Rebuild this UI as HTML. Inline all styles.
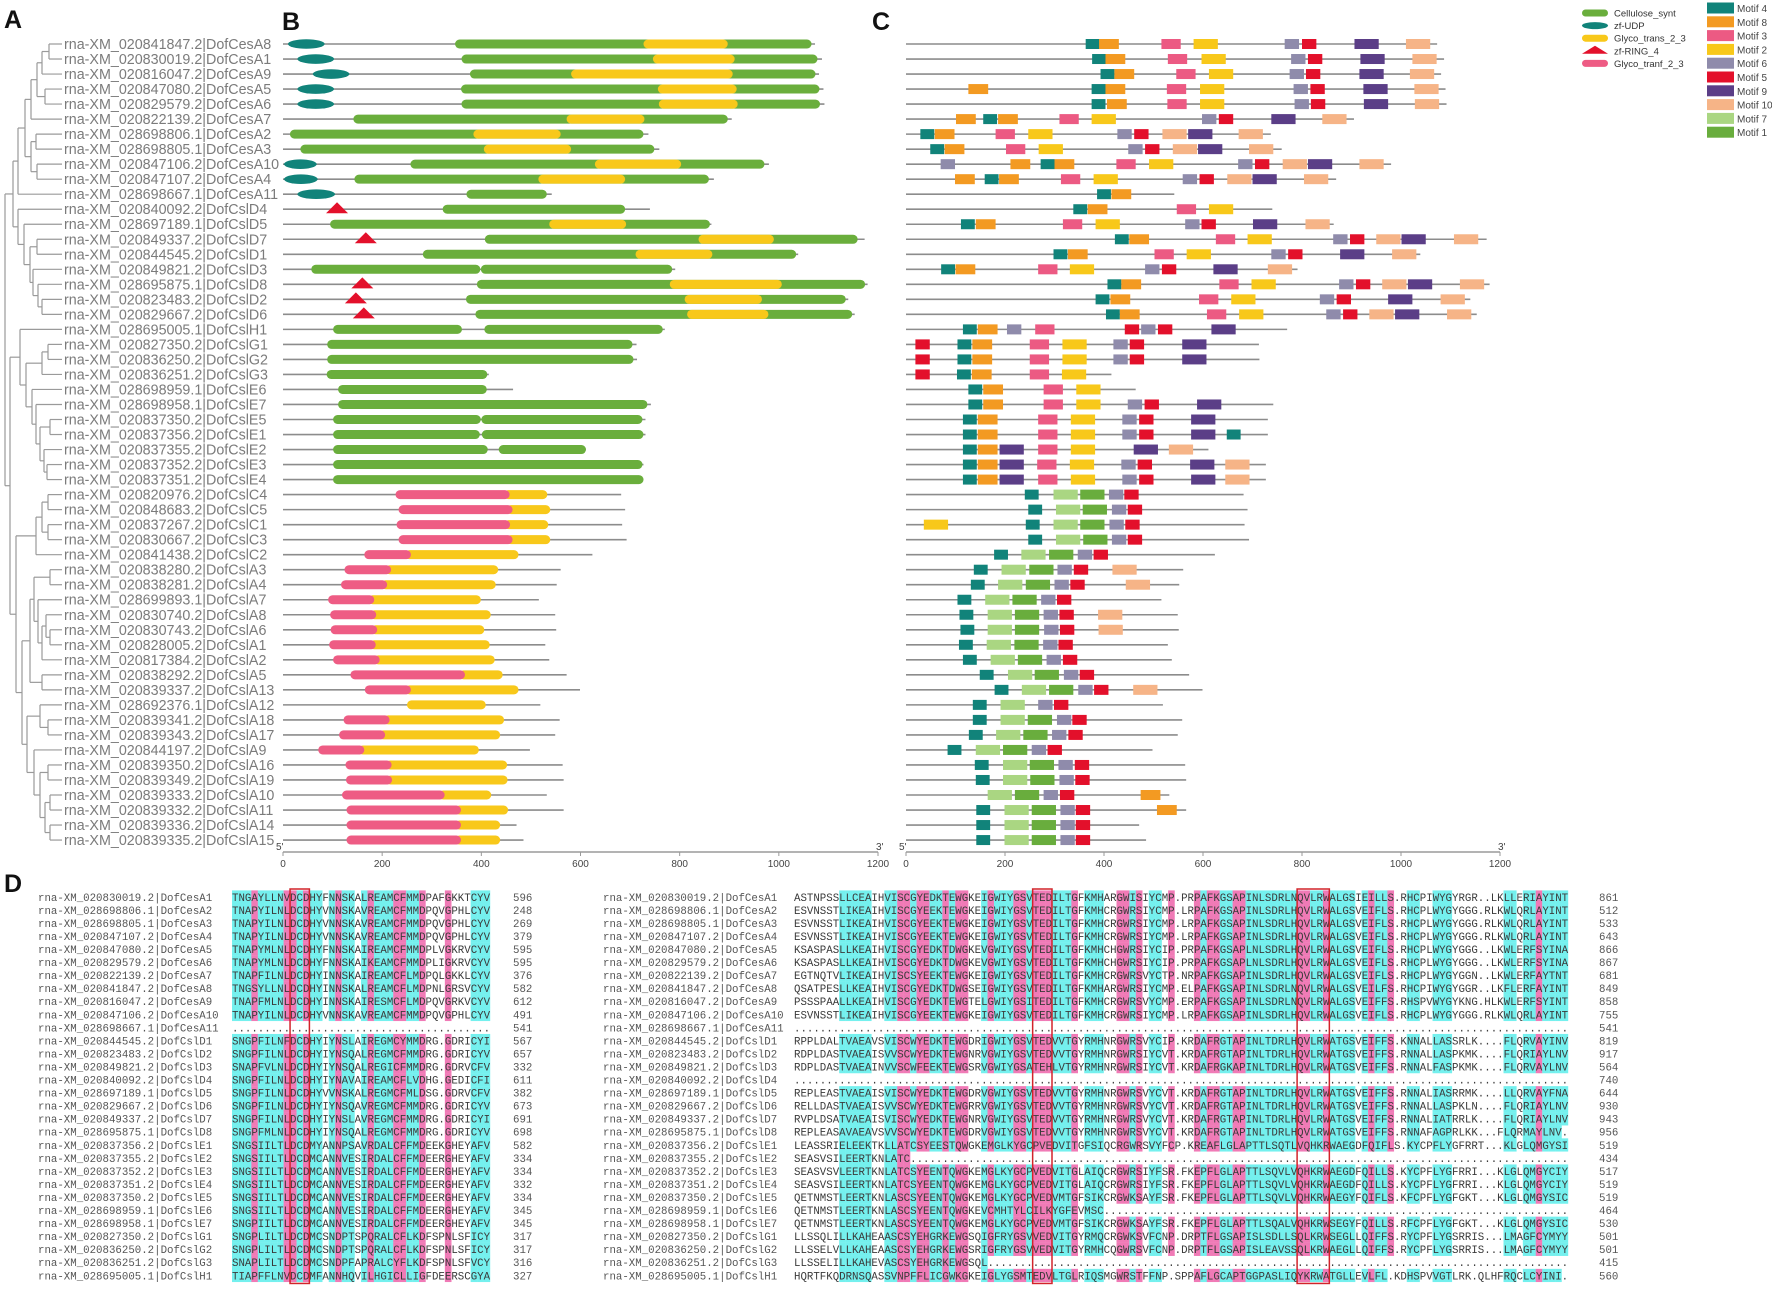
<!DOCTYPE html>
<html><head><meta charset="utf-8">
<style>
html,body{margin:0;padding:0;background:#fff;}
svg{display:block;font-family:"Liberation Sans",sans-serif;}
.mono{font-family:"Liberation Mono",monospace;}
</style></head>
<body>
<svg id="fig" xmlns="http://www.w3.org/2000/svg" width="1772" height="1289" viewBox="0 0 1772 1289">
<rect x="0" y="0" width="1772" height="1289" fill="#fff"/>
<text x="4" y="28" font-size="25" font-weight="bold" fill="#111">A</text>
<text x="282" y="30" font-size="25" font-weight="bold" fill="#111">B</text>
<text x="872" y="30" font-size="25" font-weight="bold" fill="#111">C</text>
<text x="4" y="892" font-size="25" font-weight="bold" fill="#111">D</text>
<g id="gA"></g>
<g id="gB"></g>
<g id="gC"></g>
<g id="gL"></g>
<g id="gD"></g>
</svg>
<script>
const geneIds = ["020841847.2|DofCesA8","020830019.2|DofCesA1","020816047.2|DofCesA9","020847080.2|DofCesA5","020829579.2|DofCesA6","020822139.2|DofCesA7","028698806.1|DofCesA2","028698805.1|DofCesA3","020847106.2|DofCesA10","020847107.2|DofCesA4","028698667.1|DofCesA11","020840092.2|DofCslD4","028697189.1|DofCslD5","020849337.2|DofCslD7","020844545.2|DofCslD1","020849821.2|DofCslD3","028695875.1|DofCslD8","020823483.2|DofCslD2","020829667.2|DofCslD6","028695005.1|DofCslH1","020827350.2|DofCslG1","020836250.2|DofCslG2","020836251.2|DofCslG3","028698959.1|DofCslE6","028698958.1|DofCslE7","020837350.2|DofCslE5","020837356.2|DofCslE1","020837355.2|DofCslE2","020837352.2|DofCslE3","020837351.2|DofCslE4","020820976.2|DofCslC4","020848683.2|DofCslC5","020837267.2|DofCslC1","020830667.2|DofCslC3","020841438.2|DofCslC2","020838280.2|DofCslA3","020838281.2|DofCslA4","028699893.1|DofCslA7","020830740.2|DofCslA8","020830743.2|DofCslA6","020828005.2|DofCslA1","020817384.2|DofCslA2","020838292.2|DofCslA5","020839337.2|DofCslA13","028692376.1|DofCslA12","020839341.2|DofCslA18","020839343.2|DofCslA17","020844197.2|DofCslA9","020839350.2|DofCslA16","020839349.2|DofCslA19","020839333.2|DofCslA10","020839332.2|DofCslA11","020839336.2|DofCslA14","020839335.2|DofCslA15"];
const protLen = [1073,1087,1081,1090,1092,905,737,759,980,869,542,740,864,1173,1039,791,1179,1140,1153,770,713,714,415,464,742,731,731,611,727,727,682,690,684,693,624,560,552,516,549,551,529,537,572,599,519,558,549,498,564,566,532,566,471,485];
const celluloseSynt = [[[347,1066]],[[360,1078]],[[377,1074]],[[359,1082]],[[360,1083]],[[142,897]],[[14,727]],[[35,749]],[[257,971]],[[144,859]],[[370,532]],[[322,690]],[[95,861]],[[407,1159]],[[282,1035]],[[57,398],[399,785]],[[391,1174]],[[369,1135]],[[388,1148]],[[101,361],[406,766]],[[89,705]],[[89,707]],[[88,412]],[[111,411]],[[111,735]],[[101,399],[400,725]],[[101,397],[401,727]],[[101,413],[435,611]],[[101,725]],[[101,727]]];
const glycoTrans = {0:[727,897],1:[746,911],2:[581,907],3:[756,915],4:[758,917],5:[572,729],6:[384,560],7:[405,581],8:[629,803],9:[515,690],12:[537,692],13:[838,990],14:[711,866],16:[780,1006],17:[810,966],18:[815,979],30:[457,533],31:[463,539],32:[458,535],33:[463,539],34:[258,475],35:[218,434],36:[210,429],37:[184,399],38:[188,419],39:[190,406],40:[187,417],41:[195,427],42:[367,443],43:[258,475],44:[250,409],45:[215,446],46:[206,438],47:[164,395],48:[219,452],49:[220,453],50:[326,420],51:[359,454],52:[359,438],53:[359,438]};
const glycoTranf = {30:[227,457],31:[233,463],32:[229,458],33:[233,463],34:[164,258],35:[124,218],36:[117,210],37:[91,184],38:[95,188],39:[96,190],40:[93,187],41:[101,195],42:[136,367],43:[165,258],45:[122,215],46:[113,206],47:[71,164],48:[126,219],49:[127,220],50:[119,326],51:[128,359],52:[128,359],53:[128,359]};
const zfUDP = {0:[10,84],1:[29,103],2:[60,134],3:[29,103],4:[29,103],8:[2,68],9:[2,70],10:[29,105]};
const zfRING = {11:109,13:167,16:160,17:147,18:163};
const motifWidth = {1:49,2:49,3:39,4:28,5:29,6:29,7:49,8:40,9:49,10:49};
const motifColor = {4:"#11837a",8:"#f39a22",3:"#ec5a83",2:"#f8c81a",6:"#8f8bab",5:"#e3102b",9:"#5b3e87",10:"#f6b487",7:"#aad682",1:"#69ad3d"};
const motifRows = [
[[4,363],[8,390],[3,516],[2,581],[6,765],[5,800],[9,906],[10,1010]],
[[4,376],[8,403],[3,529],[2,597],[6,778],[5,812],[9,918],[10,1023]],
[[4,393],[8,421],[3,546],[2,612],[6,775],[5,808],[9,916],[10,1018]],
[[8,126],[4,375],[8,403],[3,527],[2,594],[6,783],[5,817],[9,924],[10,1027]],
[[4,375],[8,406],[3,528],[2,594],[6,785],[5,818],[9,925],[10,1028]],
[[8,101],[4,156],[8,186],[3,310],[2,375],[6,598],[5,632],[9,738],[10,841]],
[[4,29],[8,58],[3,181],[2,247],[6,427],[5,461],[10,518],[9,570],[10,672]],
[[4,49],[8,78],[3,202],[2,268],[6,449],[5,483],[10,539],[9,590],[10,693]],
[[6,70],[8,211],[4,272],[8,300],[3,425],[2,491],[6,671],[5,705],[10,761],[9,812],[10,916]],
[[8,99],[4,159],[8,188],[3,313],[2,379],[6,559],[5,593],[10,649],[9,700],[10,804]],
[[4,386],[8,415]],
[[4,338],[8,367],[3,547],[2,612]],
[[4,111],[8,141],[3,317],[2,383],[6,564],[5,597],[9,701],[10,807]],
[[4,422],[8,451],[3,626],[2,690],[6,863],[5,897],[10,950],[9,1001],[10,1107]],
[[4,298],[8,327],[3,502],[2,567],[6,738],[5,772],[9,877],[10,982]],
[[4,71],[8,100],[3,267],[2,331],[6,483],[5,517],[9,621],[10,731]],
[[4,407],[8,435],[3,633],[2,698],[6,875],[5,909],[10,962],[9,1014],[10,1119]],
[[4,383],[8,413],[3,592],[2,657],[6,836],[5,870],[9,974],[10,1080]],
[[4,404],[8,432],[3,608],[2,673],[6,849],[5,883],[10,936],[9,988],[10,1093]],
[[4,115],[8,145],[6,204],[3,261],[5,442],[6,475],[5,509],[9,617]],
[[5,19],[4,104],[8,134],[3,250],[2,316],[6,419],[5,452],[9,558]],
[[5,19],[4,104],[8,134],[3,250],[2,316],[6,419],[5,452],[9,558]],
[[5,19],[4,103],[8,133],[3,250],[2,315]],
[[4,126],[8,156],[3,278],[2,344]],
[[4,126],[8,156],[3,278],[2,344],[6,448],[5,482],[9,588]],
[[4,115],[8,145],[3,267],[2,333],[6,437],[5,471],[9,576]],
[[4,115],[8,145],[3,267],[2,333],[6,437],[5,471],[9,576],[4,648]],
[[4,115],[8,145],[9,189],[3,267],[2,333],[9,460],[10,531]],
[[4,115],[8,145],[9,189],[3,265],[2,331],[6,435],[5,468],[9,574],[10,645]],
[[4,115],[8,145],[9,189],[3,267],[2,333],[6,437],[5,471],[9,576],[10,645]],
[[4,240],[7,298],[1,352],[6,410],[5,441]],
[[4,247],[7,303],[1,357],[6,416],[5,448]],
[[2,36],[4,242],[7,298],[1,352],[6,411],[5,443]],
[[4,247],[7,303],[1,358],[6,416],[5,448]],
[[4,178],[7,233],[1,289],[6,347],[5,379]],
[[4,137],[7,193],[1,249],[6,306],[5,339],[10,417]],
[[4,131],[7,186],[1,242],[6,300],[5,332],[10,444]],
[[4,104],[7,160],[1,215],[6,273],[5,305]],
[[4,108],[7,165],[1,220],[6,278],[5,310],[10,388]],
[[4,110],[7,165],[1,220],[6,279],[5,311],[10,389]],
[[4,107],[7,163],[1,219],[6,277],[5,308]],
[[4,115],[7,171],[1,226],[6,284],[5,317]],
[[4,149],[7,206],[1,260],[6,319],[5,351]],
[[4,179],[7,234],[1,289],[6,348],[5,380],[10,459]],
[[4,135],[7,191],[6,267],[5,299]],
[[4,135],[7,191],[1,246],[6,305],[5,336]],
[[4,127],[7,182],[1,237],[6,295],[5,328]],
[[4,84],[7,141],[1,196],[6,254],[5,286]],
[[4,139],[7,196],[1,250],[6,308],[5,341]],
[[4,141],[7,196],[1,251],[6,310],[5,342]],
[[7,165],[1,220],[6,278],[5,311],[8,474]],
[[4,142],[7,199],[1,254],[6,312],[5,343],[8,507]],
[[4,142],[7,199],[1,254],[6,312],[5,343]],
[[4,142],[7,199],[1,254],[6,312],[5,343]]];
const axisTicks = [0,200,400,600,800,1000,1200];
const motifLegend = [4,8,3,2,6,5,9,10,7,1];

const alnNames = ["020830019.2|DofCesA1","028698806.1|DofCesA2","028698805.1|DofCesA3","020847107.2|DofCesA4","020847080.2|DofCesA5","020829579.2|DofCesA6","020822139.2|DofCesA7","020841847.2|DofCesA8","020816047.2|DofCesA9","020847106.2|DofCesA10","028698667.1|DofCesA11","020844545.2|DofCslD1","020823483.2|DofCslD2","020849821.2|DofCslD3","020840092.2|DofCslD4","028697189.1|DofCslD5","020829667.2|DofCslD6","020849337.2|DofCslD7","028695875.1|DofCslD8","020837356.2|DofCslE1","020837355.2|DofCslE2","020837352.2|DofCslE3","020837351.2|DofCslE4","020837350.2|DofCslE5","028698959.1|DofCslE6","028698958.1|DofCslE7","020827350.2|DofCslG1","020836250.2|DofCslG2","020836251.2|DofCslG3","028695005.1|DofCslH1"];
const leftNums = [596,248,269,379,595,595,376,582,612,491,541,567,657,332,611,382,673,691,698,582,334,334,332,334,345,345,317,317,316,327];
const rightNums = [861,512,533,643,866,867,681,849,858,755,541,819,917,564,740,644,930,943,956,519,434,517,519,519,464,530,501,501,415,560];
const leftSeq = ["TNGAYLLNVDCDHYFNNSKALREAMCFMMDPAFGKKTCYV","TNAPYILNLDCDHYVNNSKAVREAMCFMMDPQVGPHLCYV","TNAPYILNLDCDHYVNNSKAVREAMCFMMDPQVGPHLCYV","TNAPYILNLDCDHYVNNSKAVREAMCFMMDPQVGPHLCYV","TNAPYMLNLDCDHYFNNSKAIREAMCFMMDPLVGKRVCYV","TNAPYMLNLDCDHYFNNSKAIKEAMCFMMDPLIGKRVCYV","TNAPFILNLDCDHYINNSKAIREAMCFLMDPQLGKKLCYV","TNGSYLLNLDCDHYINNSKALREAMCFLMDPNLGRSVCYV","TNAPFMLNLDCDHYINNSKAIRESMCFLMDPQVGRKVCYV","TNAPYILNLDCDHYVNNSKAVREAMCFMMDPQVGPHLCYV","........................................","SNGPFILNFDCDHYIYNSLAIREGMCYMMDRG.GDRICYI","SNGPFILNLDCDHYIYNSQALREGMCFMMDRG.GDRICYV","SNAPFVLNLDCDHYIYNSQALREGICFMMDRG.GDRVCFV","SNGPFILNLDCDHYIYNAVAIREAMCFLVDHG.GEDICFI","SNGPFILNLDCDHYVVNSKALREGMCFMLDSG.GDRVCFV","SNGPFILNLDCDHYIYNSQAVREGMCFMMDRG.GDRICYV","SNGPFILNLDCDHYIYNSLAVREGMCFMMDRG.GDRICYI","SNGPFMLNLDCDHYIYNSQALREGMCFMMDRG.GDRICYV","SNGSIILTLDCDMYANNPSAVRDALCFFMDEEKGHEYAFV","SNGSIILTLDCDMCANNVESIRDALCFFMDEERGHEYAFV","SNGSIILTLDCDMCANNVESIRDALCFFMDEERGHEYAFV","SNGSIILTLDCDMCANNVESIRDALCFFMDEERGHEYAFV","SNGSIILTLDCDMCANNVESIRDALCFFMDEERGHEYAFV","SNGSIILTLDCDMCANNVESIRDALCFFMDEERGHEYAFV","SNGPIILTLDCDMCANNVESIRDALCFFMDEERGHEYAFV","SNGPLILTLDCDMCSNDPTSPQRALCFLKDFSPNLSFICY","SNGPLILTLDCDMCSNDPTSPQRALCFLKDFSPNLSFICY","SNAPLILTLDCDMCSNDPFAPRALCYFLKDFSPNLSFVCY","TIAPFFLNVDCDMFANNHQVILHGICLLIGFDEERSCGYA"];
const RA2 = "ESVNSSTLIKEAIHVISCGYEEKTEWGKEIGWIYGSVTEDILTGFKMHCRGWRSIYCMP.LRPAFKGSAPINLSDRLHQVLRWALGSVEIFLS.RHCPLWYGYGGG.RLKWLQRLAYINT";
const RA5 = "KSASPASLLKEAIHVISCGYEDKTDWGKEVGWIYGSVTEDILTGFKMHCHGWRSIYCIP.PRPAFKGSAPLNLSDRLHQVLRWALGSVEIFLS.RHCPLWYGYGGG..LKWLERFSYINA";
const rightSeq = ["ASTNPSSLLCEAIHVISCGYEDKTEWGKEIGWIYGSVTEDILTGFKMHARGWISIYCMP.PRPAFKGSAPINLSDRLNQVLRWALGSIEILLS.RHCPIWYGYRGR..LKLLERIAYINT",RA2,RA2,RA2,RA5,RA5,
"EGTNQTVLIKEAIHVISCSYEEKTEWGKEIGWIYGSVTEDILTGFKMHCRGWRSVYCTP.NRPAFKGSAPINLSDRLHQVLRWALGSVEIFLS.RHCPLWYGYGGN..LKWLERFAYTNT",
"QSATPESLLKEAIHVISCGYEDKTDWGSEIGWIYGSVTEDILTGFKMHARGWRSIYCMP.ELPAFKGSAPINLSDRLNQVLRWALGSVEILFS.RHCPIWYGYGGR..LKFLERFAYINT",
"PSSSPAALLKEAIHVISCGYEDKTEWGTELGWIYGSITEDILTGFKMHCRGWRSVYCMP.ERPAFKGSAPINLSDRLNQVLRWALGSVEIFFS.RHSPVWYGYKNG.HLKWLERFSYINT",RA2,"",
"RPPLDALTVAEAVSVISCWYEDKTEWGDRIGWIYGSVTEDVVTGYRMHNRGWRSVYCIP.KRDAFRGTAPINLTDRLHQVLRWATGSVEIFFS.KNNALLASSRLK....FLQRVAYINV",
"RDPLDASTVAEAISVVSCWYEDKTEWGNRVGWIYGSVTEDVVTGYRMHNRGWRSIYCVT.KRDAFRGTAPINLTDRLHQVLRWATGSVEIFFS.RNNALLASPKMK....FLQRIAYLNV",
"RDPLDASTVAEAINVVSCWFEEKTEWGSRVGWIYGSATEHLVTGYRMHNRGWRSIYCVT.KRDAFRGKAPINLTDRLHQVLRWATGSVEIFFS.RNNALFASPKMK....FLQRVAYLNV","",
"REPLEASTVAEAISVISCWYEDKTEWGDRVGWIYGSVTEDVVTGYRMHNRGWRSVYCVT.KRDAFRGTAPINLTDRLHQVLRWATGSVEIFFS.RNNALIASRRMK....LLQRVAYFNA",
"RELLDASTVAEAISVVSCWYEDKTEWGRRVGWIYGSVTEDVVTGYRMHNRGWRSVYCVT.KRDAFRGTAPINLTDRLHQVLRWATGSVEIFFS.RNNALLASPKLN....FLQRIAYLNV",
"RVPLDSATVAEAISVISCWYEDKTEWGNRVGWIYGSVTEDVVTGYRMHNRGWRSVYCVT.KRDAFRGTAPINLTDRLHQVLRWATGSVEIFFS.RNNALIATRRLK....FLQRIAYLNV",
"REPLEASAVAEAVSVVSCWYEDKTEWGDRVGWIYGSVTEDVVTGYRMHNRGWRSVYCVT.KRDAFRGTAPINLTDRLHQVLRWATGSVEIFFS.RNNAFAGPRLKK...FLQRMAYLNV",
"LEASSRIELEEKTKLLATCSYEESTQWGKEMGLKYGCPVEDVITGFSIQCRGWRSVYFCP.KREAFLGLAPTTLSQTLVQHKRWAEGDFQIFLS.KYCPFLYGFRRT...KLGLQMGYSIC",
"SEASVSILEERTKNLATC",
"SEASVSVLEERTKNLATCSYEENTQWGKEMGLKYGCPVEDVITGLAIQCRGWRSIYFSR.FKEPFLGLAPTTLSQVLVQHKRWAEGDFQILLS.KYCPFLYGFRRI...KLGLQMGYCIY",
"SEASVSILEERTKNLATCSYEENTQWGKEMGLKYGCPVEDVITGLAIQCRGWRSIYFSR.FKEPFLGLAPTTLSQVLVQHKRWAEGDFQILLS.KYCPFLYGFRRI...KLGLQMGYCIY",
"QETNMSTLEERTKNLASCSYEENTQWGKEMGLKYGCPVEDVMTGFSIKCRGWKSAYFSR.FKEPFLGLAPTTLSQVLVQHKRWAEGYFQIFLS.KFCPFLYGFGKT...KLGLQMGYSIC",
"QETNMSTLEERTKNLASCSYEENTQWGKEVCMHTYLCILKYGFEVMSC",
"QETNMSTLEERTKNLASCSYEENTQWGKEMGLKYGCPVEDVMTGFSIKCRGWKSAYFSR.FKEPFLGLAPTTLSQALVQHKRWSEGYFQILLS.RFCPFLYGFGKT...KLGLQMGYSIC",
"LLSSQLILLKAHEAASCSYEHGRKEWGSQIGFRYGSVVEDVITGYRMQCRGWKSVFCNP.DRPTFLGSAPISLSDLLSQLKRWSEGLLQIFFS.RYCPFLYGSRRIS...LMAGFCYMYY",
"LLSSELVLLKAHEAASCSYEHGRKEWGSRIGFRYGSVVEDVITGYRMHCQGWRSVFCNP.DRPTFLGSAPISLEAVSSQLKRWAEGLLQIFFS.RYCPFLYGSRRIS...LMAGFCYMYY",
"LLSSELILLKAHEVASCSYEHGRKEWGSQL",
"HQRTFKQDRNSQASSVNPFFLICGWKGKEIGLYGSMTEDVLTGLRIQSMGWRSTFFNP.SPPAFLGCAPTGGPASLIQYKRWATGLLEVLFL.KDHSPVVGTLRK.QLHFRQCLCYINI"];
const leftMask = "cccmccccmmcmcc cmcc cmcccmmccm   m   ccc";
const rightMask = "       ccccc  ccmmcmmccmcmm  cmcccmmcmmmcccm ccc  mmcm cc m   mcmmccmmccccccccmmccmcccc cmccm  cc  ccc        cc ccmcccc";

const NS = "http://www.w3.org/2000/svg";
function mk(tag, attrs, parent){const e=document.createElementNS(NS,tag);for(const k in attrs)e.setAttribute(k,attrs[k]);parent.appendChild(e);return e;}
const gA=document.getElementById('gA'),gB=document.getElementById('gB'),gC=document.getElementById('gC'),gL=document.getElementById('gL'),gD=document.getElementById('gD');
const rowY = i => 44 + i*15.02;
const xB = aa => 283 + aa*595/1200;
const xC = aa => 906 + aa*594/1200;
const AXIS_Y = 852;

// ---- Tree (A) ----
const tree = {x:5,c:[
 {x:13,c:[
  {x:18,c:[{x:25,c:[{x:31,c:[{x:37,c:[{x:42,c:[{x:49,c:[0,1]},2]},{x:45,c:[3,4]}]},5]},{x:31,c:[{x:36,c:[6,7]},{x:37,c:[8,9]}]}]},10]},
  {x:18,c:[11,{x:24,c:[12,{x:30,c:[{x:37,c:[13,14]},{x:33,c:[15,{x:38,c:[16,{x:42,c:[17,18]}]}]}]}]}]}]},
 {x:10,c:[
  {x:20,c:[19,{x:26,c:[{x:42,c:[{x:48,c:[20,21]},22]},{x:32,c:[23,{x:36,c:[24,{x:40,c:[{x:50,c:[25,26]},{x:44,c:[27,{x:47,c:[28,29]}]}]}]}]}]}]},
  {x:16,c:[{x:36,c:[{x:42,c:[{x:48,c:[30,31]},{x:48,c:[32,33]}]},34]},
   {x:22,c:[{x:30,c:[{x:34,c:[{x:50,c:[35,36]},{x:38,c:[37,{x:42,c:[{x:46,c:[38,{x:50,c:[39,40]}]},41]}]}]},{x:42,c:[42,43]}]},
    {x:27,c:[{x:40,c:[44,{x:48,c:[45,46]}]},{x:34,c:[47,{x:40,c:[{x:48,c:[48,49]},{x:45,c:[{x:50,c:[50,51]},{x:50,c:[52,53]}]}]}]}]}]}]}]}]};
function drawNode(n){
 if(typeof n==='number'){return {x:62,y:rowY(n)};}
 const pts=n.c.map(drawNode);
 const ys=pts.map(p=>p.y);
 const y0=Math.min(...ys),y1=Math.max(...ys);
 const v=mk('line',{x1:n.x,x2:n.x,y1:y0,y2:y1,stroke:'#9a9a9a','stroke-width':1.2},gA);
 
 
 pts.forEach(p=>{const h=mk('line',{x1:n.x,x2:p.x,y1:p.y,y2:p.y,stroke:'#9a9a9a','stroke-width':1.2},gA);
  
  });
 return {x:n.x,y:(y0+y1)/2};
}
drawNode(tree);
geneIds.forEach((g,i)=>{
 const t=mk('text',{x:64,y:rowY(i)+5,'font-size':14.3,fill:'#7b7b7b'},gA);
 t.textContent='rna-XM_'+g;
 
 
});

// ---- Domains (B) ----
function pill(g,x1,x2,y,h,fill,name){const r=mk('rect',{x:x1,y:y-h/2,width:Math.max(1,x2-x1),height:h,rx:h/2,ry:h/2,fill:fill},g);
 
 return r;}
protLen.forEach((L,i)=>{
 const y=rowY(i);
 const ln=mk('line',{x1:xB(0),x2:xB(L),y1:y,y2:y,stroke:'#8c8c8c','stroke-width':1.6},gB);
 
 
 (celluloseSynt[i]||[]).forEach(s=>pill(gB,xB(s[0]),xB(s[1]),y,9,'#6aae3c','cellulose-synt-domain'));
 if(glycoTrans[i]){const s=glycoTrans[i];
   if(glycoTranf[i]) pill(gB,xB(s[0])-6,xB(s[1]),y,9,'#f8c81a','glyco-trans-domain');
   else mk('rect',{x:xB(s[0]),y:y-4.5,width:xB(s[1])-xB(s[0]),height:9,rx:4.5,fill:'#f8c81a',},gB);}
 if(glycoTranf[i]){const s=glycoTranf[i];pill(gB,xB(s[0]),xB(s[1]),y,9,'#ee5c84','glyco-tranf-domain');}
 if(zfUDP[i]){const s=zfUDP[i];const e=mk('ellipse',{cx:(xB(s[0])+xB(s[1]))/2,cy:y,rx:(xB(s[1])-xB(s[0]))/2,ry:4.8,fill:'#11837a'},gB);
  
  }
 if(zfRING[i]!==undefined){const c=xB(zfRING[i]);const p=mk('polygon',{points:`${c-11},${y+4} ${c+11},${y+4} ${c},${y-7}`,fill:'#e3102b'},gB);
  
  }
});
// ---- Motifs (C) ----
protLen.forEach((L,i)=>{
 const y=rowY(i);
 const ln=mk('line',{x1:xC(0),x2:xC(L),y1:y,y2:y,stroke:'#8c8c8c','stroke-width':1.6},gC);
 
 
 motifRows[i].forEach(m=>{
  const r=mk('rect',{x:xC(m[1]),y:y-5,width:xC(m[1]+motifWidth[m[0]])-xC(m[1]),height:10,fill:motifColor[m[0]]},gC);
  
  
 });
});
// ---- Axes ----
[[gB,xB],[gC,xC]].forEach(([g,fx])=>{
 const a=mk('line',{x1:fx(0),x2:fx(1200),y1:AXIS_Y,y2:AXIS_Y,stroke:'#9a9a9a','stroke-width':1.5},g);
 
 
 axisTicks.forEach(v=>{
  const t=mk('line',{x1:fx(v),x2:fx(v),y1:AXIS_Y,y2:AXIS_Y+4,stroke:'#9a9a9a','stroke-width':1},g);
  
  
  const l=mk('text',{x:fx(v),y:AXIS_Y+15,'font-size':10,fill:'#444','text-anchor':'middle'},g);
  l.textContent=v;
  
  
 });
 const f=mk('text',{x:fx(0)-7,y:AXIS_Y-2,'font-size':10,fill:'#444'},g);f.textContent="5'";
 
 
 const e=mk('text',{x:fx(1200)-2,y:AXIS_Y-2,'font-size':10,fill:'#444'},g);e.textContent="3'";
 
 
});
// ---- Legends ----
const domLegend=[["Cellulose_synt","#6aae3c","pill"],["zf-UDP","#11837a","ell"],["Glyco_trans_2_3","#f8c81a","pill"],["zf-RING_4","#e3102b","tri"],["Glyco_tranf_2_3","#ee5c84","pill"]];
domLegend.forEach((d,i)=>{
 const y=13+i*12.6;
 let s;
 if(d[2]==='pill') s=mk('rect',{x:1582,y:y-3.5,width:26,height:7,rx:3.5,fill:d[1]},gL);
 else if(d[2]==='ell') s=mk('ellipse',{cx:1595,cy:y,rx:13,ry:3.5,fill:d[1]},gL);
 else s=mk('polygon',{points:`1582,${y+3} 1608,${y+3} 1595,${y-5}`,fill:d[1]},gL);
 
 
 const t=mk('text',{x:1614,y:y+3.5,'font-size':9.5,fill:'#333'},gL);t.textContent=d[0];
 
 
});
motifLegend.forEach((m,i)=>{
 const y=8+i*13.8;
 const s=mk('rect',{x:1707,y:y-5.5,width:27,height:11,fill:motifColor[m]},gL);
 
 
 const t=mk('text',{x:1737,y:y+4,'font-size':10,fill:'#444'},gL);t.textContent='Motif '+m;
 
 
});
// ---- Alignment (D) ----
const CW=6.45, D0=897, DS=13.05;
const LX=232, RX=794;
function seqBlock(seq,mask,x0,y,len){
 const s=(seq.length?seq:'').padEnd(len,'.').slice(0,len);
 for(let c=0;c<len;c++){
  const m=mask[c];
  if(s[c]==='.'||m===' '||m===undefined) continue;
  const r=mk('rect',{x:x0+c*CW,y:y-6.6,width:CW+0.2,height:13.2,fill:m==='c'?'#74f0ee':'#f07ab6'},gD);
  
  
 }
 const t=mk('text',{x:x0,y:y+3.8,'font-size':10.75,fill:'#3a3a3a','class':'mono'},gD);
 t.textContent=s;
 
 
}
alnNames.forEach((n,i)=>{
 const y=D0+i*DS;
 seqBlock(leftSeq[i],leftMask,LX,y,40);
 seqBlock(rightSeq[i],rightMask,RX,y,120);
 [[38,'alignment-name-left'],[603,'alignment-name-right']].forEach(p=>{
  const t=mk('text',{x:p[0],y:y+3.8,'font-size':10.75,fill:'#555','class':'mono'},gD);
  t.textContent='rna-XM_'+n;
  
  
 });
 const a=mk('text',{x:513,y:y+3.8,'font-size':10.75,fill:'#555','class':'mono'},gD);a.textContent=leftNums[i];
 
 
 const b=mk('text',{x:1599,y:y+3.8,'font-size':10.75,fill:'#555','class':'mono'},gD);b.textContent=rightNums[i];
 
 
});
const boxTop=D0-8, boxBot=D0+29*DS+8;
[[LX,9,3,'motif-box-dcd'],[RX,37,3,'motif-box-ted'],[RX,78,5,'motif-box-qxxrw']].forEach(b=>{
 const r=mk('rect',{x:b[0]+b[1]*CW,y:boxTop,width:b[2]*CW,height:boxBot-boxTop,fill:'none',stroke:'#d2232a','stroke-width':1.5},gD);
 
 
});
</script>
</body></html>
